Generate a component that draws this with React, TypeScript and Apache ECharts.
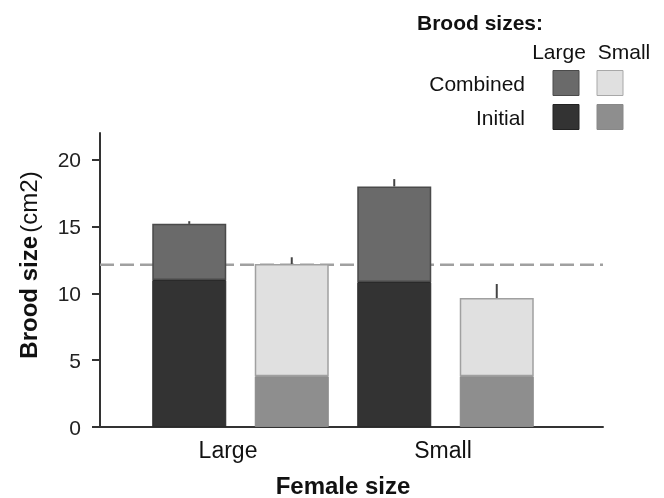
import React, { useEffect, useRef } from 'react';
import * as echarts from 'echarts';

// ---- data ----
const femaleSizes = ['Large', 'Small'];
const largeBroodInitial = [11.0, 10.85];
const largeBroodCombined = [15.2, 18.0];
const largeBroodErrTop = [15.4, 18.55];
const smallBroodInitial = [3.8, 3.8];
const smallBroodCombined = [12.2, 9.65];
const smallBroodErrTop = [12.7, 10.7];
const referenceLine = 12.15;
const yTicks = [0, 5, 10, 15, 20];
const yMax = 22;
const legendTitle = 'Brood sizes:';
const legendCols = ['Large', 'Small'];
const legendRows = ['Combined', 'Initial'];

// ---- style ----
const FONT = "'Liberation Sans', Arial, sans-serif";
const C_L_INIT = '#333333';
const C_L_COMB = '#6a6a6a';
const C_S_INIT = '#8e8e8e';
const C_S_COMB = '#e0e0e0';
const BAR_W = 74;
const BAR_GAP_PX = 28.5;
const OFFSET = (BAR_W + BAR_GAP_PX) / 2;

export default function App() {
  const ref = useRef<HTMLDivElement>(null);
  useEffect(() => {
    if (!ref.current) return;
    const chart = echarts.init(ref.current, null, { renderer: 'svg' });

    const lCombExtra = largeBroodCombined.map((v, i) => +(v - largeBroodInitial[i]).toFixed(3));
    const sCombExtra = smallBroodCombined.map((v, i) => +(v - smallBroodInitial[i]).toFixed(3));

    const errRender = (side: number) => (params: any, api: any) => {
      const cat = api.value(0);
      const a = api.coord([cat, api.value(1)]);
      const b = api.coord([cat, api.value(2)]);
      const off = side * OFFSET;
      return {
        type: 'line',
        shape: { x1: a[0] + off, y1: a[1], x2: b[0] + off, y2: b[1] },
        style: { stroke: '#444', lineWidth: 2 },
      };
    };

    const barCommon = {
      type: 'bar',
      xAxisIndex: 0,
      yAxisIndex: 0,
      barWidth: BAR_W,
      barGap: (BAR_GAP_PX / BAR_W) * 100 + '%',
      z: 2,
    };

    const legendGraphics: any[] = [
      {
        type: 'text',
        x: 417,
        y: 22,
        style: { text: legendTitle, font: `bold 21px ${FONT}`, fill: '#111', verticalAlign: 'middle' },
      },
    ];
    const headX = [559, 624];
    const swatchX = [566, 610];
    const rowY = [83, 117];
    legendCols.forEach((c, i) => {
      legendGraphics.push({
        type: 'text',
        x: headX[i],
        y: 51,
        style: { text: c, font: `21px ${FONT}`, fill: '#111', align: 'center', verticalAlign: 'middle' },
      });
    });
    legendRows.forEach((r, j) => {
      legendGraphics.push({
        type: 'text',
        x: 525,
        y: rowY[j],
        style: { text: r, font: `21px ${FONT}`, fill: '#111', align: 'right', verticalAlign: 'middle' },
      });
    });
    const swatch = [
      [C_L_COMB, C_S_COMB],
      [C_L_INIT, C_S_INIT],
    ];
    const swatchBorder = [
      ['#4a4a4a', '#a8a8a8'],
      ['#222', '#888'],
    ];
    rowY.forEach((y, j) => {
      swatchX.forEach((x, i) => {
        legendGraphics.push({
          type: 'rect',
          shape: { x: x - 13, y: y - 12.5, width: 26, height: 25 },
          style: { fill: swatch[j][i], stroke: swatchBorder[j][i], lineWidth: 1 },
        });
      });
    });

    chart.setOption({
      animation: false,
      textStyle: { fontFamily: FONT },
      grid: [
        { left: 138, right: 116, top: 133, bottom: 71, outerBoundsMode: 'none' },
        { left: 100, right: 61, top: 133, bottom: 71, outerBoundsMode: 'none' },
      ],
      xAxis: [
        {
          type: 'category',
          gridIndex: 0,
          data: [
            { value: femaleSizes[0], textStyle: { padding: [0, 25, 0, 0] } },
            { value: femaleSizes[1], textStyle: { padding: [0, 5, 0, 0] } },
          ],
          axisLine: { show: false },
          axisTick: { show: false },
          axisLabel: { fontSize: 23, color: '#111', margin: 11, fontFamily: FONT },
          name: 'Female size',
          nameLocation: 'middle',
          nameGap: 46,
          nameTextStyle: { fontSize: 24, fontWeight: 'bold', color: '#111', fontFamily: FONT },
        },
        {
          type: 'value',
          gridIndex: 1,
          min: 0,
          max: 1,
          axisLine: { show: true, onZero: false, lineStyle: { color: '#333', width: 2 } },
          axisTick: { show: false },
          axisLabel: { show: false },
          splitLine: { show: false },
        },
      ],
      yAxis: [
        { type: 'value', gridIndex: 0, min: 0, max: yMax, show: false, splitLine: { show: false } },
        {
          type: 'value',
          gridIndex: 1,
          min: 0,
          max: yMax,
          interval: 5,
          axisLine: { show: true, lineStyle: { color: '#333', width: 2 } },
          axisTick: { show: true, length: 8, customValues: yTicks, lineStyle: { color: '#333', width: 2 } },
          axisLabel: { fontSize: 21, color: '#222', margin: 19, customValues: yTicks, fontFamily: FONT },
          splitLine: { show: false },
          name: '{b|Brood size} {n|(cm2)}',
          nameLocation: 'middle',
          nameGap: 60,
          nameRotate: 90,
          nameTextStyle: {
            padding: [0, 0, 0, 30],
            rich: {
              b: { fontSize: 24, fontWeight: 'bold', color: '#111', fontFamily: FONT },
              n: { fontSize: 24, color: '#111', fontFamily: FONT },
            },
          },
        },
      ],
      graphic: legendGraphics,
      series: [
        {
          type: 'line',
          xAxisIndex: 1,
          yAxisIndex: 1,
          data: [
            [0, referenceLine],
            [1, referenceLine],
          ],
          symbol: 'none',
          lineStyle: { type: [14, 6], color: '#a0a0a0', width: 2.5 },
          z: 1,
          silent: true,
        },
        {
          ...barCommon,
          name: 'Large initial',
          stack: 'L',
          data: largeBroodInitial,
          itemStyle: { color: C_L_INIT, borderColor: '#2a2a2a', borderWidth: 1 },
        },
        {
          ...barCommon,
          name: 'Large combined',
          stack: 'L',
          data: lCombExtra,
          itemStyle: { color: C_L_COMB, borderColor: '#4a4a4a', borderWidth: 1.5 },
        },
        {
          ...barCommon,
          name: 'Small initial',
          stack: 'S',
          data: smallBroodInitial,
          itemStyle: { color: C_S_INIT, borderColor: '#888', borderWidth: 1 },
        },
        {
          ...barCommon,
          name: 'Small combined',
          stack: 'S',
          data: sCombExtra,
          itemStyle: { color: C_S_COMB, borderColor: '#a0a0a0', borderWidth: 1.5 },
        },
        {
          type: 'custom',
          xAxisIndex: 0,
          yAxisIndex: 0,
          z: 3,
          renderItem: errRender(-1),
          data: femaleSizes.map((_, i) => [i, largeBroodCombined[i], largeBroodErrTop[i]]),
        },
        {
          type: 'custom',
          xAxisIndex: 0,
          yAxisIndex: 0,
          z: 3,
          renderItem: errRender(1),
          data: femaleSizes.map((_, i) => [i, smallBroodCombined[i], smallBroodErrTop[i]]),
        },
      ],
    });
    return () => chart.dispose();
  }, []);
  return <div ref={ref} style={{ position: 'fixed', left: 0, top: 0, width: 664, height: 498 }} />;
}
